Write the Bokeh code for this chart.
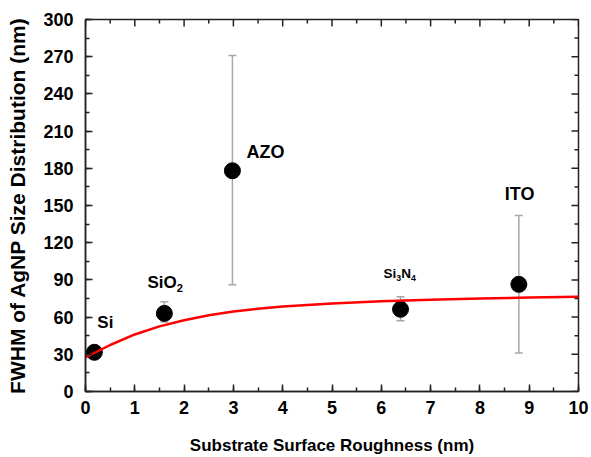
import math
from bokeh.plotting import figure
from bokeh.models import (ColumnDataSource, Whisker, TeeHead, Range1d,
                          SingleIntervalTicker, Label)
from bokeh.embed import file_html
from bokeh.resources import INLINE

# ---- data ----
substrates = ["Si", "SiO2", "AZO", "Si3N4", "ITO"]
roughness = [0.18, 1.6, 2.98, 6.39, 8.79]
fwhm = [31.6, 63.0, 178.0, 66.3, 86.4]
err_low = [31.6, 56.0, 86.0, 57.0, 31.0]
err_high = [31.6, 72.4, 271.0, 76.4, 142.0]

fit_x = [0, 0.5, 1, 1.5, 2, 2.5, 3, 3.5, 4, 5, 6, 7, 8, 9, 10]
fit_y = [27.5, 37.5, 46.0, 52.5, 57.5, 61.5, 64.5, 66.8, 68.6, 71.0, 72.8, 74.0, 75.0, 75.8, 76.5]

x_major = [0, 1, 2, 3, 4, 5, 6, 7, 8, 9, 10]
x_minor = [0.5, 1.5, 2.5, 3.5, 4.5, 5.5, 6.5, 7.5, 8.5, 9.5]
y_major = [0, 30, 60, 90, 120, 150, 180, 210, 240, 270, 300]
y_minor = [15, 45, 75, 105, 135, 165, 195, 225, 255, 285]
x_max = 10
y_max = 300

# label pieces: (text, is_subscript) with styling (pixel offset x, offset y, font size px)
label_parts = [
    [("Si", False)],
    [("SiO", False), ("2", True)],
    [("AZO", False)],
    [("Si", False), ("3", True), ("N", False), ("4", True)],
    [("ITO", False)],
]
label_style = [(3, 30, 17), (-17, 31, 17), (14, 19, 18), (-17, 36, 13.5), (-14, 90, 18)]

FONT = "Liberation Sans"
# approximate Liberation Sans Bold advance widths (em)
ADV = {"S": 0.667, "i": 0.278, "O": 0.778, "N": 0.722, "A": 0.722, "Z": 0.611,
       "I": 0.278, "T": 0.611, "2": 0.556, "3": 0.556, "4": 0.556}

p = figure(width=591, height=457, output_backend="svg", toolbar_location=None,
           x_range=Range1d(0, x_max), y_range=Range1d(0, y_max),
           min_border_left=85, min_border_right=13, min_border_top=19, min_border_bottom=65)
p.xgrid.visible = False
p.ygrid.visible = False
p.outline_line_color = "#222222"
p.outline_line_width = 1.5
p.background_fill_color = "white"
p.border_fill_color = "white"

def style_axis(ax, major):
    ax.ticker = SingleIntervalTicker(interval=major, num_minor_ticks=2)
    ax.axis_line_color = "#222222"
    ax.axis_line_width = 1.5
    ax.major_tick_in = 7
    ax.major_tick_out = 0
    ax.minor_tick_in = 4
    ax.minor_tick_out = 0
    ax.major_tick_line_width = 1.5
    ax.minor_tick_line_width = 1.5
    ax.major_tick_line_color = "#222222"
    ax.minor_tick_line_color = "#222222"
    ax.major_label_text_font = FONT
    ax.major_label_text_font_style = "bold"
    ax.major_label_text_font_size = "18px"
    ax.major_label_text_color = "black"
    ax.axis_label_text_font = FONT
    ax.axis_label_text_font_style = "bold"
    ax.axis_label_text_color = "black"

xa = p.xaxis[0]
ya = p.yaxis[0]
style_axis(xa, 1)
style_axis(ya, 30)
xa.axis_label = "Substrate Surface Roughness (nm)"
ya.axis_label = "FWHM of AgNP Size Distribution (nm)"
xa.axis_label_text_font_size = "17px"
ya.axis_label_text_font_size = "21px"
xa.major_label_standoff = 9
xa.axis_label_standoff = 19
ya.major_label_standoff = 12
ya.axis_label_standoff = 11

# mirrored inward ticks on top and right edges
tick_kw = dict(line_color="#222222", line_width=1.5, length_units="screen")
p.ray(x=x_major, y=[y_max] * len(x_major), length=7, angle=-math.pi / 2, **tick_kw)
p.ray(x=x_minor, y=[y_max] * len(x_minor), length=4, angle=-math.pi / 2, **tick_kw)
p.ray(x=[x_max] * len(y_major), y=y_major, length=7, angle=math.pi, **tick_kw)
p.ray(x=[x_max] * len(y_minor), y=y_minor, length=4, angle=math.pi, **tick_kw)

src = ColumnDataSource(dict(x=roughness, y=fwhm, lo=err_low, hi=err_high, name=substrates))
w = Whisker(source=src, base="x", lower="lo", upper="hi", dimension="height",
            line_color="#a8a8a8", line_width=1.5, level="underlay",
            lower_head=TeeHead(size=8, line_color="#a8a8a8", line_width=1.5),
            upper_head=TeeHead(size=8, line_color="#a8a8a8", line_width=1.5))
p.add_layout(w)

p.scatter("x", "y", source=src, size=16, fill_color="black", line_color="black")

# fitted curve (drawn above the markers, as in the reference)
p.line(fit_x, fit_y, line_color="#ff0000", line_width=2.5)

for parts, xv, yv, (dx, dy, fs) in zip(label_parts, roughness, fwhm, label_style):
    cursor = dx
    for txt, sub in parts:
        size = fs * 0.65 if sub else fs
        yoff = dy - fs * 0.32 if sub else dy
        p.add_layout(Label(x=xv, y=yv, x_offset=cursor, y_offset=yoff, text=txt,
                           text_font=FONT, text_font_style="bold",
                           text_font_size=f"{size:.1f}px",
                           text_color="black", text_baseline="alphabetic"))
        cursor += sum(ADV.get(c, 0.6) for c in txt) * size

open("out.html", "w").write(file_html(p, INLINE))
